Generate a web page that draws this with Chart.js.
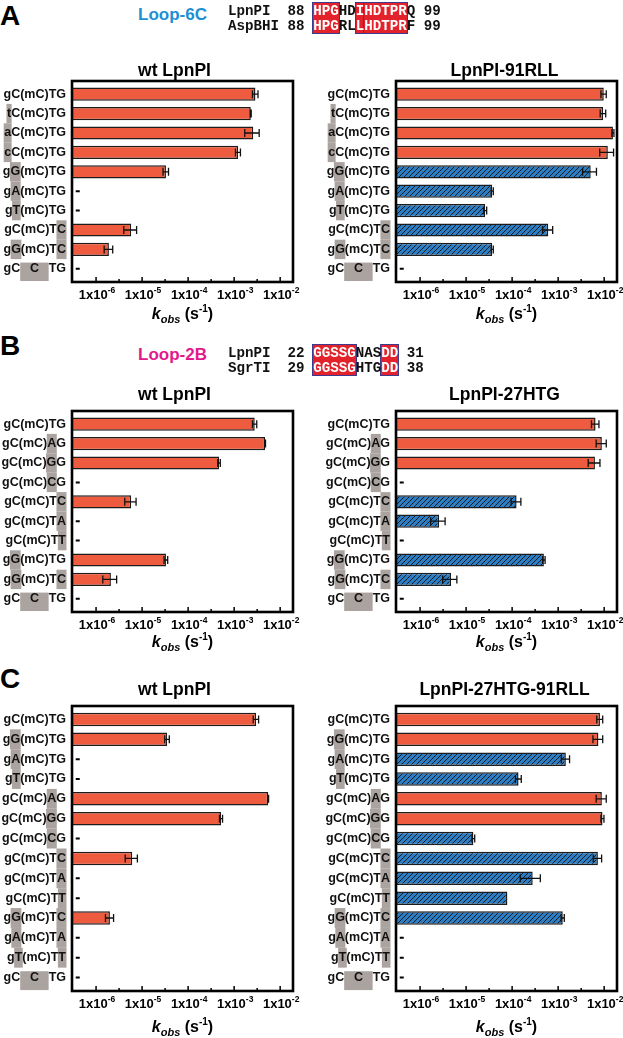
<!DOCTYPE html>
<html lang="en">
<head>
<meta charset="UTF-8">
<title>LpnPI variants - kobs</title>
<script src="https://cdn.jsdelivr.net/npm/chart.js"></script>
<style>
  body { margin: 0; background: #fff; }
  #page { position: relative; width: 623px; height: 1038px; overflow: hidden; font-family: "Liberation Sans", Arial, sans-serif; }
  #page canvas { position: absolute; }
  .letter { position: absolute; left: 0; font-weight: bold; font-size: 28px; line-height: 28px; }
  .loop { position: absolute; left: 138px; font-weight: bold; font-size: 17px; line-height: 17px; }
  .seq { position: absolute; font-family: "Liberation Mono", "Courier New", monospace; font-weight: bold; font-size: 14.2px; line-height: 15px; white-space: pre; color: #111; }
  .blk { position: absolute; background: #e3232b; border: 1.5px solid #3d3b8f; box-sizing: border-box; }
  .seq .w { color: #fff; }
</style>
</head>
<body>
<div id="page">
  <div class="letter" style="top:2px">A</div>
  <div class="loop" style="top:6px;color:#1c8fd5">Loop-6C</div>
  <div class="letter" style="top:332px">B</div>
  <div class="loop" style="top:346px;color:#e2198b">Loop-2B</div>
  <div class="letter" style="top:665px">C</div>
  <canvas id="aL"></canvas>
  <canvas id="aR"></canvas>
  <canvas id="bL"></canvas>
  <canvas id="bR"></canvas>
  <canvas id="cL"></canvas>
  <canvas id="cR"></canvas>
</div>

<script>
  // x axis (kobs, s-1), log scale
  const X_MIN = 3e-7;
  const X_MAX = 1.9e-2;
  const tickExps = [-6, -5, -4, -3, -2];
  const ND = 4e-7;   // where the "not detected" dash sits

  // labels: {x} = grey highlighted base, [C] = unmethylated C in grey box
  const labelsA = ['gC(mC)TG', '{t}C(mC)TG', '{a}C(mC)TG', '{c}C(mC)TG', 'g{G}(mC)TG',
                   'g{A}(mC)TG', 'g{T}(mC)TG', 'gC(mC)T{C}', 'g{G}(mC)T{C}', 'gC[C]TG'];
  const wtA     = [2.9e-3, 2.3e-3, 2.6e-3, 1.22e-3, 3.3e-5, null, null, 5.8e-6, 1.9e-6, null];
  const wtAErr  = [0.4e-3, 0.05e-3, 0.9e-3, 0.15e-3, 0.45e-5, 0, 0, 1.8e-6, 0.4e-6, 0];
  const rllA    = [9.8e-3, 9.5e-3, 1.55e-2, 1.2e-2, 5.1e-3, 3.7e-5, 2.6e-5, 6.1e-4, 3.7e-5, null];
  const rllAErr = [1.3e-3, 1.3e-3, 0.8e-3, 4e-3, 1.7e-3, 0.2e-5, 0.2e-5, 1.5e-4, 0.2e-5, 0];
  const rllAHatch = [0, 0, 0, 0, 1, 1, 1, 1, 1, 0];

  const labelsB = ['gC(mC)TG', 'gC(mC){A}G', 'gC(mC){G}G', 'gC(mC){C}G', 'gC(mC)T{C}',
                   'gC(mC)T{A}', 'gC(mC)T{T}', 'g{G}(mC)TG', 'g{G}(mC)T{C}', 'gC[C]TG'];
  const wtB     = [2.8e-3, 4.7e-3, 4.7e-4, null, 5.8e-6, null, null, 3.3e-5, 2.1e-6, null];
  const wtBErr  = [0.3e-3, 0.1e-3, 0.3e-4, 0, 1.6e-6, 0, 0, 0.3e-5, 0.7e-6, 0];
  const htgB    = [6.5e-3, 8.9e-3, 6.3e-3, null, 1.25e-4, 2.6e-6, null, 4.9e-4, 4.7e-6, null];
  const htgBErr = [1.2e-3, 2.2e-3, 1.8e-3, 0, 0.3e-4, 0.9e-6, 0, 0.3e-4, 1.6e-6, 0];
  const htgBHatch = [0, 0, 0, 0, 1, 1, 1, 1, 1, 0];

  const labelsC = ['gC(mC)TG', 'g{G}(mC)TG', 'g{A}(mC)TG', 'g{T}(mC)TG', 'gC(mC){A}G',
                   'gC(mC){G}G', 'gC(mC){C}G', 'gC(mC)T{C}', 'gC(mC)T{A}', 'gC(mC)T{T}',
                   'g{G}(mC)T{C}', 'g{A}(mC)T{A}', 'g{T}(mC)T{T}', 'gC[C]TG'];
  const wtC     = [3.0e-3, 3.5e-5, null, null, 5.5e-3, 5.2e-4, null, 6.1e-6, null, null, 2.0e-6, null, null, null];
  const wtCErr  = [0.4e-3, 0.4e-5, 0, 0, 0.1e-3, 0.4e-4, 0, 1.8e-6, 0, 0, 0.4e-6, 0, 0, 0];
  const dblC    = [8.1e-3, 7.5e-3, 1.47e-3, 1.38e-4, 8.9e-3, 9.2e-3, 1.44e-5, 7.3e-3, 2.8e-4, 7.9e-5, 1.26e-3, null, null, null];
  const dblCErr = [1.2e-3, 1.8e-3, 0.3e-3, 0.2e-4, 2.2e-3, 0.7e-3, 0.1e-5, 1.5e-3, 1.3e-4, 0, 0.1e-3, 0, 0, 0];
  const dblCHatch = [0, 0, 1, 1, 0, 0, 1, 1, 1, 1, 1, 0, 0, 0];

  // sequence alignments
  const seqRowsA = [['LpnPI', '88', 'HPGHDIHDTPRQ', '99'], ['AspBHI', '88', 'HPGRLLHDTPRF', '99']];
  const seqBlocksA = [[0, 3], [5, 1], [6, 5]];
  const seqRowsB = [['LpnPI', '22', 'GGSSGNASDD', '31'], ['SgrTI', '29', 'GGSSGHTGDD', '38']];
  const seqBlocksB = [[0, 5], [8, 2]];

  const SANS = '"Liberation Sans", Arial, sans-serif';
  const RED = '#ef5b3e';
  const BLUE = '#2d7dc2';
  const GREY = '#aba39f';
  const PAD = 3.5;
  const CW = 14.2 * 0.6;

  function buildSeq(rows, blocks, x, base) {
    const page = document.getElementById('page');
    blocks.forEach(([s, n]) => {
      const d = document.createElement('div');
      d.className = 'blk';
      d.style.left = (x + (10 + s) * CW - 1) + 'px';
      d.style.width = (n * CW + 2) + 'px';
      d.style.top = (base - 13) + 'px';
      d.style.height = '32px';
      page.appendChild(d);
    });
    rows.forEach((r, k) => {
      const d = document.createElement('div');
      d.className = 'seq';
      d.style.left = x + 'px';
      d.style.top = (base - 11.4 + k * 15) + 'px';
      let html = r[0].padEnd(7, ' ') + r[1] + ' ';
      [...r[2]].forEach((ch, i) => {
        const red = blocks.some(([s, n]) => i >= s && i < s + n);
        html += red ? '<span class="w">' + ch + '</span>' : ch;
      });
      html += ' ' + r[3];
      d.innerHTML = html;
      page.appendChild(d);
    });
  }
  buildSeq(seqRowsA, seqBlocksA, 228, 15);
  buildSeq(seqRowsB, seqBlocksB, 228, 357);

  function makePattern(ctx) {
    const c = document.createElement('canvas');
    c.width = 5; c.height = 5;
    const g = c.getContext('2d');
    g.fillStyle = BLUE;
    g.fillRect(0, 0, 5, 5);
    g.strokeStyle = '#111';
    g.lineWidth = 0.9;
    g.beginPath();
    g.moveTo(-1, 6); g.lineTo(6, -1);
    g.moveTo(-1, 1); g.lineTo(1, -1);
    g.moveTo(4, 6); g.lineTo(6, 4);
    g.stroke();
    return ctx.createPattern(c, 'repeat');
  }

  function parseLabel(s) {
    const out = [];
    const re = /\{([^}]*)\}|\[([^\]]*)\]|([^{[]+)/g;
    let m;
    while ((m = re.exec(s))) {
      if (m[1] !== undefined) out.push({ t: m[1], mark: 1 });
      else if (m[2] !== undefined) out.push({ t: m[2], mark: 2 });
      else out.push({ t: m[3], mark: 0 });
    }
    return out;
  }

  function drawRich(ctx, parts, cx, y) {
    let w = 0;
    parts.forEach(p => { ctx.font = p.f; w += ctx.measureText(p.t).width; });
    let x = cx - w / 2;
    parts.forEach(p => {
      ctx.font = p.f;
      ctx.fillText(p.t, x, y + p.dy);
      x += ctx.measureText(p.t).width;
    });
  }

  function figPlugin(opt) {
    return {
      id: 'fig',
      afterDraw(chart) {
        const ctx = chart.ctx, ca = chart.chartArea;
        const xs = chart.scales.x, ys = chart.scales.y;
        const top = ca.top - PAD, bottom = ca.bottom + PAD;
        const mid = (ca.left + ca.right) / 2;
        ctx.save();

        // error bars
        ctx.strokeStyle = '#111';
        ctx.lineWidth = 1.3;
        opt.values.forEach((v, i) => {
          const e = opt.errors[i];
          if (v === null || !e) return;
          const py = ys.getPixelForValue(i);
          const x1 = xs.getPixelForValue(Math.max(v - e, X_MIN));
          const x2 = xs.getPixelForValue(v + e);
          ctx.beginPath();
          ctx.moveTo(x1, py); ctx.lineTo(x2, py);
          ctx.moveTo(x1, py - 4); ctx.lineTo(x1, py + 4);
          ctx.moveTo(x2, py - 4); ctx.lineTo(x2, py + 4);
          ctx.stroke();
        });

        // frame
        ctx.strokeStyle = '#000';
        ctx.lineWidth = 2.6;
        ctx.strokeRect(ca.left, top, ca.right - ca.left, bottom - top);

        // inward ticks
        ctx.lineWidth = 1.5;
        ctx.beginPath();
        tickExps.forEach(e => {
          const px = xs.getPixelForValue(10 ** e);
          ctx.moveTo(px, bottom); ctx.lineTo(px, bottom - 5);
          const mv = 10 ** (e + 0.5);
          if (mv < X_MAX) {
            const pm = xs.getPixelForValue(mv);
            ctx.moveTo(pm, bottom); ctx.lineTo(pm, bottom - 3);
          }
        });
        ctx.stroke();

        // tick labels 1x10^n
        ctx.fillStyle = '#000';
        ctx.textBaseline = 'alphabetic';
        ctx.textAlign = 'left';
        tickExps.forEach(e => {
          const px = xs.getPixelForValue(10 ** e);
          drawRich(ctx, [
            { t: '1x10', f: 'bold 13px ' + SANS, dy: 0 },
            { t: String(e), f: 'bold 8.5px ' + SANS, dy: -6 }
          ], px + 1, bottom + 17);
        });

        // axis title  k_obs (s^-1)
        drawRich(ctx, [
          { t: 'k', f: 'italic bold 16px ' + SANS, dy: 0 },
          { t: 'obs', f: 'italic bold 11px ' + SANS, dy: 4 },
          { t: ' (s', f: 'bold 16px ' + SANS, dy: 0 },
          { t: '-1', f: 'bold 10px ' + SANS, dy: -7 },
          { t: ')', f: 'bold 16px ' + SANS, dy: 0 }
        ], mid, bottom + opt.axisGap);

        // chart title
        ctx.font = 'bold 17.5px ' + SANS;
        ctx.textAlign = 'center';
        ctx.fillText(opt.title, mid + opt.titleDx, top - opt.titleGap);

        // y labels with grey highlights
        ctx.textAlign = 'left';
        ctx.textBaseline = 'middle';
        ctx.font = 'bold 12.5px ' + SANS;
        const rowH = Math.abs(ys.getPixelForValue(1) - ys.getPixelForValue(0));
        const wmC = ctx.measureText('(mC)').width;
        opt.labels.forEach((lab, i) => {
          const py = ys.getPixelForValue(i);
          const parts = parseLabel(lab);
          const widths = parts.map(p => p.mark === 2 ? wmC : ctx.measureText(p.t).width);
          let x = ca.left - 6 - widths.reduce((a, b) => a + b, 0);
          parts.forEach((p, k) => {
            const w = widths[k];
            if (p.mark === 1) {
              ctx.fillStyle = GREY;
              ctx.fillRect(x - 0.5, py - rowH / 2, w + 1, rowH);
            } else if (p.mark === 2) {
              ctx.fillStyle = GREY;
              ctx.fillRect(x, py - rowH * 0.32, w, rowH * 0.95);
            }
            ctx.fillStyle = '#111';
            if (p.mark === 2) {
              ctx.textAlign = 'center';
              ctx.fillText(p.t, x + w / 2, py);
              ctx.textAlign = 'left';
            } else {
              ctx.fillText(p.t, x, py);
            }
            x += w;
          });
        });
        ctx.restore();
      }
    };
  }

  function buildChart(id, opt) {
    const cv = document.getElementById(id);
    const left = opt.side === 'L';
    cv.width = left ? 310 : 313;
    cv.height = opt.boxBottom - opt.boxTop + 100;
    cv.style.left = (left ? 0 : 310) + 'px';
    cv.style.top = (opt.boxTop - 50) + 'px';
    const ctx = cv.getContext('2d');
    const pattern = makePattern(ctx);
    const hatch = opt.hatch || opt.values.map(() => 0);
    return new Chart(ctx, {
      type: 'bar',
      data: {
        labels: opt.labels,
        datasets: [{
          type: 'bar',
          indexAxis: 'y',
          data: opt.values,
          backgroundColor: hatch.map(h => h ? pattern : RED),
          borderColor: '#1c1c1c',
          borderWidth: 1.5,
          barPercentage: 0.68,
          categoryPercentage: 1
        }, {
          type: 'line',
          indexAxis: 'y',
          data: opt.values.map(v => v === null ? ND : null),
          showLine: false,
          pointStyle: 'line',
          pointRadius: 2,
          pointBorderWidth: 2,
          pointBorderColor: '#000',
          pointBackgroundColor: '#000'
        }]
      },
      options: {
        indexAxis: 'y',
        responsive: false,
        animation: false,
        events: [],
        layout: {
          padding: { left: left ? 72 : 86, right: left ? 17 : 6, top: 50 + PAD, bottom: 50 + PAD }
        },
        scales: {
          x: { type: 'logarithmic', min: X_MIN, max: X_MAX, display: false },
          y: { type: 'category', display: false, offset: true }
        },
        plugins: { legend: { display: false }, tooltip: { enabled: false } }
      },
      plugins: [figPlugin(opt)]
    });
  }

  const panelA = { boxTop: 81, boxBottom: 282, titleGap: 5, axisGap: 37 };
  const panelB = { boxTop: 411, boxBottom: 612, titleGap: 11, axisGap: 35 };
  const panelC = { boxTop: 706, boxBottom: 991, titleGap: 11, axisGap: 41 };

  buildChart('aL', { ...panelA, side: 'L', title: 'wt LpnPI', titleDx: -8, labels: labelsA, values: wtA, errors: wtAErr });
  buildChart('aR', { ...panelA, side: 'R', title: 'LpnPI-91RLL', titleDx: -2, labels: labelsA, values: rllA, errors: rllAErr, hatch: rllAHatch });
  buildChart('bL', { ...panelB, side: 'L', title: 'wt LpnPI', titleDx: -8, labels: labelsB, values: wtB, errors: wtBErr });
  buildChart('bR', { ...panelB, side: 'R', title: 'LpnPI-27HTG', titleDx: -2, labels: labelsB, values: htgB, errors: htgBErr, hatch: htgBHatch });
  buildChart('cL', { ...panelC, side: 'L', title: 'wt LpnPI', titleDx: -8, labels: labelsC, values: wtC, errors: wtCErr });
  buildChart('cR', { ...panelC, side: 'R', title: 'LpnPI-27HTG-91RLL', titleDx: -2, labels: labelsC, values: dblC, errors: dblCErr, hatch: dblCHatch });
</script>
</body>
</html>
